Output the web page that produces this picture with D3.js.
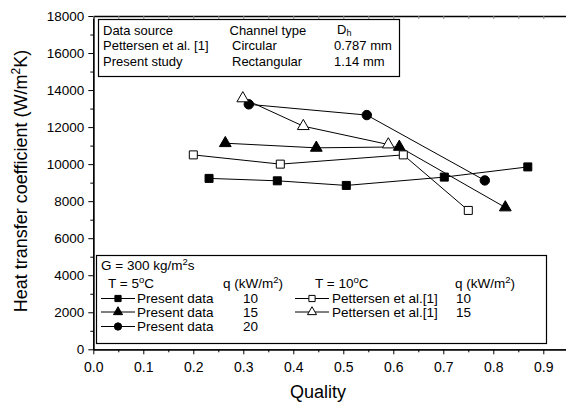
<!DOCTYPE html>
<html><head><meta charset="utf-8">
<script src="https://cdn.jsdelivr.net/npm/d3@7"></script>
<style>body{margin:0;background:#fff}svg{display:block;font-family:"Liberation Sans",Arial,sans-serif}</style>
</head><body><svg id="c" width="566" height="406"></svg>
<script>
// Data
const presentQ10 = [[0.2315,9230],[0.368,9100],[0.506,8850],[0.702,9300],[0.869,9850]];
const presentQ15 = [[0.264,11130],[0.446,10880],[0.612,10930],[0.824,7660]];
const presentQ20 = [[0.311,13230],[0.547,12650],[0.783,9120]];
const pettQ10 = [[0.200,10500],[0.374,10000],[0.620,10500],[0.750,7500]];
const pettQ15 = [[0.299,13550],[0.420,12050],[0.590,11060]];
const xTicks = [0,0.1,0.2,0.3,0.4,0.5,0.6,0.7,0.8,0.9];
const yTicks = [0,2000,4000,6000,8000,10000,12000,14000,16000,18000];

const svg = d3.select("#c");
const x0 = 93.3, yTop = 16, yBot = 349.3;
const x = d3.scaleLinear().domain([0,1]).range([x0, x0+500]);
const y = d3.scaleLinear().domain([0,18000]).range([yBot, yTop]);

// axes
const gx = svg.append("g").attr("transform",`translate(0,${yBot})`)
  .call(d3.axisBottom(x).tickValues(xTicks).tickFormat(d3.format(".1f")).tickSize(5).tickSizeOuter(0));
svg.append("g").attr("transform",`translate(0,${yBot})`)
  .call(d3.axisBottom(x).tickValues(d3.range(0.05,1.0,0.1)).tickFormat("").tickSize(3).tickSizeOuter(0));
const gy = svg.append("g").attr("transform",`translate(${x0},0)`)
  .call(d3.axisLeft(y).tickValues(yTicks).tickFormat(d3.format("d")).tickSize(5).tickSizeOuter(0));
svg.append("g").attr("transform",`translate(${x0},0)`)
  .call(d3.axisLeft(y).tickValues(d3.range(1000,18000,2000)).tickFormat("").tickSize(3).tickSizeOuter(0));
// top axis (mirror, inward ticks)
const gt = svg.append("g").attr("transform",`translate(0,${yTop})`)
  .call(d3.axisTop(x).tickValues(d3.range(0,1.0001,0.05)).tickFormat("").tickSize(-3).tickSizeOuter(0));
svg.selectAll(".domain").attr("stroke","#000").attr("stroke-width",1.3);
gt.select(".domain").attr("stroke-width",1.6);
svg.selectAll(".tick line").attr("stroke","#000");
gt.selectAll(".tick line").attr("stroke","#888");
gx.selectAll("text").attr("font-size",14).attr("fill","#000").attr("dy","1.05em");
gy.selectAll("text").attr("font-size",13.5).attr("fill","#000").attr("x",-9);

// axis titles
svg.append("text").attr("x",318).attr("y",398).attr("text-anchor","middle").attr("font-size",18).text("Quality");
const yl = svg.append("text").attr("transform","translate(27,181) rotate(-90)").attr("text-anchor","middle").attr("font-size",18);
yl.append("tspan").text("Heat transfer coefficient (W/m");
yl.append("tspan").attr("font-size",12).attr("baseline-shift","super").text("2");
yl.append("tspan").text("K)");

// series
const line = d3.line().x(d=>x(d[0])).y(d=>y(d[1]));
const series = [
  {data:presentQ10, sym:d3.symbolSquare, fill:"#000", size:64},
  {data:presentQ15, sym:d3.symbolTriangle, fill:"#000", size:60},
  {data:presentQ20, sym:d3.symbolCircle, fill:"#000", size:70},
  {data:pettQ10, sym:d3.symbolSquare, fill:"#fff", size:64},
  {data:pettQ15, sym:d3.symbolTriangle, fill:"#fff", size:60}
];
series.forEach(s=>{
  svg.append("path").datum(s.data).attr("d",line).attr("fill","none").attr("stroke","#000").attr("stroke-width",1);
});
series.forEach(s=>{
  svg.selectAll(null).data(s.data).enter().append("path")
    .attr("transform",d=>`translate(${x(d[0])},${y(d[1])})`)
    .attr("d",d3.symbol().type(s.sym).size(s.size))
    .attr("fill",s.fill).attr("stroke","#000").attr("stroke-width",1);
});

// legend 1
svg.append("rect").attr("x",98.5).attr("y",19.5).attr("width",301).attr("height",57).attr("fill","#fff").attr("stroke","#000").attr("stroke-width",1.2);
const L1 = [["Data source","Channel type",null],["Pettersen et al. [1]","Circular","0.787 mm"],["Present study","Rectangular","1.14 mm"]];
L1.forEach((r,i)=>{
  const yy = 34.5+i*15.7;
  svg.append("text").attr("x",103).attr("y",yy).attr("font-size",13).text(r[0]);
  svg.append("text").attr("x",i===0?229.5:232).attr("y",yy).attr("font-size",13).text(r[1]);
  if(r[2]) svg.append("text").attr("x",334).attr("y",yy).attr("font-size",13).text(r[2]);
});
const dh = svg.append("text").attr("x",337).attr("y",33.5).attr("font-size",13);
dh.append("tspan").text("D");
dh.append("tspan").attr("font-size",9).attr("dy",2.5).text("h");

// legend 2
svg.append("rect").attr("x",96.5).attr("y",255.5).attr("width",450).attr("height",88).attr("fill","#fff").attr("stroke","#000").attr("stroke-width",1.2);
function supText(xx,yy,parts){
  const t = svg.append("text").attr("x",xx).attr("y",yy).attr("font-size",13.5);
  parts.forEach(p=>{
    if(typeof p==="string") t.append("tspan").text(p);
    else t.append("tspan").attr("font-size",9.5).attr("baseline-shift","super").text(p.s);
  });
}
supText(101,270,["G = 300 kg/m",{s:"2"},"s"]);
supText(108,288,["T = 5",{s:"o"},"C"]);
supText(223,288,["q (kW/m",{s:"2"},")"]);
supText(315,288,["T = 10",{s:"o"},"C"]);
supText(455,288,["q (kW/m",{s:"2"},")"]);
const leg = [
  {s:series[0], x1:101, x2:135, tx:137, label:"Present data", q:"10", qx:243, yy:303},
  {s:series[1], x1:101, x2:135, tx:137, label:"Present data", q:"15", qx:243, yy:316.5},
  {s:series[2], x1:101, x2:135, tx:137, label:"Present data", q:"20", qx:243, yy:331},
  {s:series[3], x1:295, x2:329, tx:332, label:"Pettersen et al.[1]", q:"10", qx:456, yy:303},
  {s:series[4], x1:295, x2:329, tx:332, label:"Pettersen et al.[1]", q:"15", qx:456, yy:316.5}
];
leg.forEach(l=>{
  const cy = l.yy-4.5;
  svg.append("line").attr("x1",l.x1).attr("x2",l.x2).attr("y1",cy).attr("y2",cy).attr("stroke","#000");
  svg.append("path").attr("transform",`translate(${(l.x1+l.x2)/2},${cy})`)
    .attr("d",d3.symbol().type(l.s.sym).size(l.s.size*0.6)).attr("fill",l.s.fill).attr("stroke","#000");
  svg.append("text").attr("x",l.tx).attr("y",l.yy).attr("font-size",13.5).text(l.label);
  svg.append("text").attr("x",l.qx).attr("y",l.yy).attr("font-size",13.5).text(l.q);
});
</script></body></html>
